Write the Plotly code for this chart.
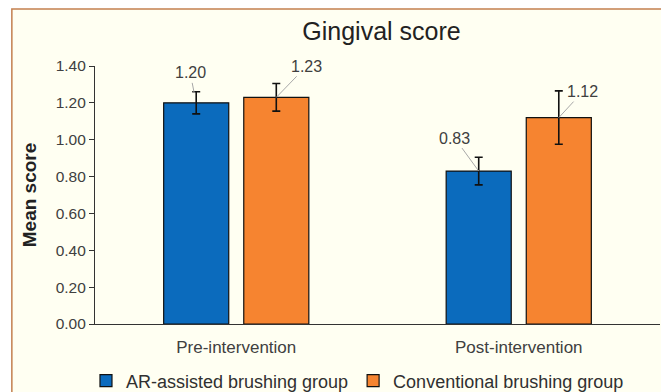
import plotly.graph_objects as go

categories = ["Pre-intervention", "Post-intervention"]
ar_values = [1.20, 0.83]
ar_err = [0.06, 0.075]
conv_values = [1.23, 1.12]
conv_err = [0.075, 0.145]
series_names = ["AR-assisted brushing group", "Conventional brushing group"]
y_ticks = [0.0, 0.2, 0.4, 0.6, 0.8, 1.0, 1.2, 1.4]

BLUE = "#0b6bbd"
ORANGE = "#f68430"
CREAM = "#fffff2"
FONT = "Arial, Liberation Sans, sans-serif"

T, B = 66, 68
PH = 392 - T - B
PB = 392 - B

fig = go.Figure()
fig.add_bar(x=categories, y=ar_values, name=series_names[0],
            marker=dict(color=BLUE, line=dict(color="#111111", width=1.2)),
            error_y=dict(type="data", array=ar_err, color="#111111", thickness=1.6, width=4))
fig.add_bar(x=categories, y=conv_values, name=series_names[1],
            marker=dict(color=ORANGE, line=dict(color="#111111", width=1.2)),
            error_y=dict(type="data", array=conv_err, color="#111111", thickness=1.6, width=4))

# data labels with leader lines
off = 40 / 282
label_specs = [
    (0 - off, ar_values[0], -6, -30, 10),
    (0 + off, conv_values[0], 30, -31, 0),
    (1 - off, ar_values[1], -24, -33, 0),
    (1 + off, conv_values[1], 24, -26, 0),
]
for x, v, ax, ay, so in label_specs:
    fig.add_annotation(x=x, y=v, xref="x", yref="y", text=f"{v:.2f}",
                       showarrow=True, arrowhead=0, arrowwidth=1, arrowcolor="#a8a8a8",
                       ax=ax, ay=ay, standoff=so,
                       font=dict(family=FONT, size=16, color="#404040"))

fig.add_shape(type="rect", xref="paper", yref="paper",
              x0=(12 - 95) / 564, x1=1.2, y0=-0.4, y1=(PB - 9) / PH,
              fillcolor=CREAM, line=dict(color="#c4804f", width=1.5), layer="below")

fig.update_layout(
    width=661, height=392,
    margin=dict(l=95, r=1, t=T, b=B, autoexpand=False),
    paper_bgcolor="#ffffff",
    plot_bgcolor="rgba(0,0,0,0)",
    barmode="group", bargap=0.433, bargroupgap=0.1875,
    title=dict(text="Gingival score", x=381.5 / 661, xanchor="center", y=1 - 31 / 392, yanchor="middle",
               font=dict(family=FONT, size=25, color="#222222")),
    font=dict(family=FONT, size=15, color="#404040"),
    showlegend=True,
    legend=dict(orientation="h", x=(86 - 95) / 564, xanchor="left", y=(PB - 381) / PH, yanchor="middle",
                font=dict(family=FONT, size=18, color="#303030"), bgcolor="rgba(0,0,0,0)",
                traceorder="normal", itemwidth=30),
    xaxis=dict(showline=True, linecolor="#333333", linewidth=1.2, ticks="",
               ticklabelstandoff=7, automargin=False,
               tickfont=dict(family=FONT, size=17, color="#404040"), showgrid=False, zeroline=False),
    yaxis=dict(range=[0, 1.4], tickvals=y_ticks, tickformat=".2f", showline=True,
               linecolor="#333333", linewidth=1.2, ticks="outside", ticklen=5, tickcolor="#333333",
               showgrid=False, zeroline=False, automargin=False,
               tickfont=dict(family=FONT, size=15.5, color="#404040"),
               title=dict(text="<b>Mean score</b>", standoff=13,
                          font=dict(family=FONT, size=19, color="#222222"))),
)

fig.write_html("out.html", config={"displayModeBar": False},
               post_script="document.body.style.margin='0px';")
